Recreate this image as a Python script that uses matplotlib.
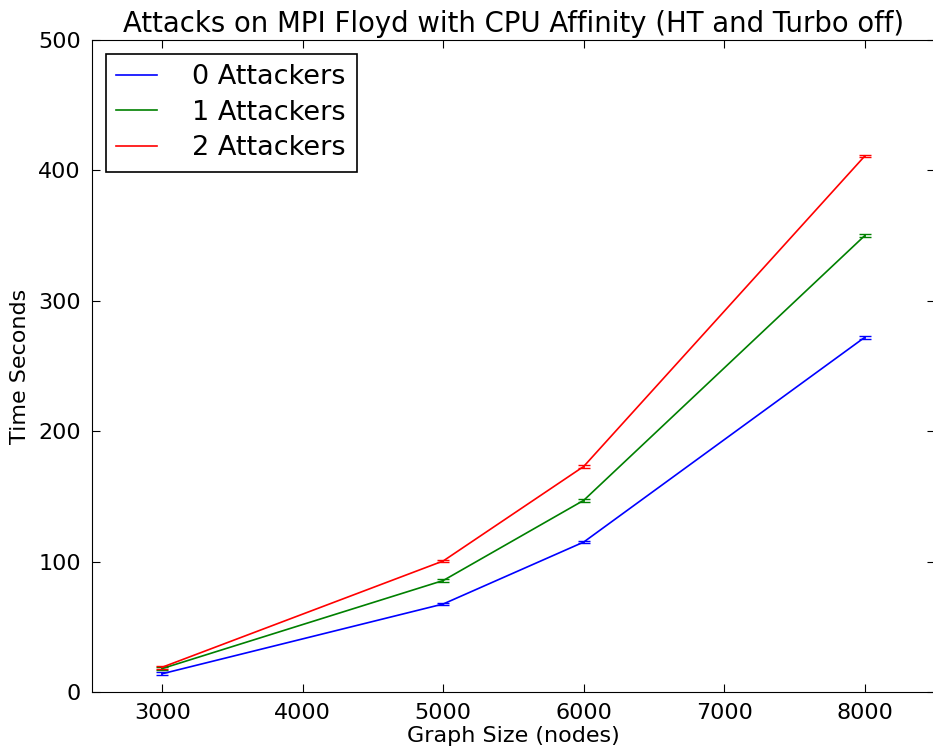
import matplotlib
matplotlib.use("Agg")
import matplotlib.pyplot as plt
from matplotlib.lines import Line2D

# graph sizes and mean run times
sizes = [3000, 5000, 6000, 8000]
t0 = [14, 67.5, 115, 272]
t1 = [18, 85.5, 147, 350]
t2 = [19, 100.5, 173, 411]
err0 = [1, 1, 1, 1]
err1 = [1, 1, 1, 1]
err2 = [1, 1, 1, 1]
labels = ["0 Attackers", "1 Attackers", "2 Attackers"]
colors = ["b", "g", "r"]

fig = plt.figure(figsize=(9.33, 7.51), dpi=100)
# right edge of the axes falls just outside the picture, as in the original
ax = fig.add_axes([92 / 933, 59 / 751, 843 / 933, 652 / 751])
ax.spines["right"].set_visible(False)

handles = []
for t, e, c, lab in zip([t0, t1, t2], [err0, err1, err2], colors, labels):
    ax.errorbar(sizes, t, yerr=e, color=c, lw=1.2, capsize=4)
    handles.append(Line2D([], [], color=c, lw=1.2, label=lab))

ax.set_xlim(2500, 8500)
ax.set_ylim(0, 500)
ax.set_xticks([3000, 4000, 5000, 6000, 7000, 8000])
ax.set_yticks([0, 100, 200, 300, 400, 500])
ax.tick_params(direction="in", top=True, right=True, length=6, labelsize=16, pad=8)
ax.set_xlabel("Graph Size (nodes)", fontsize=16, labelpad=2)
ax.set_ylabel("Time Seconds", fontsize=16, labelpad=6)
ax.set_title("Attacks on MPI Floyd with CPU Affinity (HT and Turbo off)", fontsize=19.8, pad=6)

leg = ax.legend(handles=handles, loc="upper left", fontsize=19.5, fancybox=False,
                framealpha=1, edgecolor="black", handlelength=1.5,
                handletextpad=1.3, borderaxespad=0.5, labelspacing=0.35)
leg.get_frame().set_linewidth(1.2)

fig.savefig("out.png", dpi=100)
